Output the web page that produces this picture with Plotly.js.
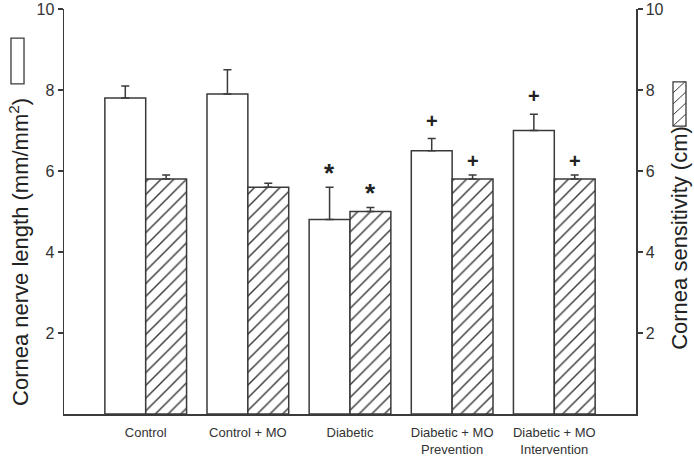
<!DOCTYPE html>
<html>
<head>
<meta charset="utf-8">
<script src="https://cdn.plot.ly/plotly-3.0.1.min.js"></script>
<style>
  html, body { margin: 0; padding: 0; background: #fff; }
  #chart { width: 694px; height: 458px; }
</style>
</head>
<body>
<div id="chart"></div>
<script>
// groups along the x axis
var groups = ["Control", "Control + MO", "Diabetic", "Diabetic + MO<br>Prevention", "Diabetic + MO<br>Intervention"];

// nerve length (left axis, white bars)
var nerveLength = [7.8, 7.9, 4.8, 6.5, 7.0];
var nerveErr = [0.3, 0.6, 0.8, 0.3, 0.4];
var nerveMarks = ["", "", "*", "+", "+"];

// sensitivity (right axis, hatched bars)
var sensitivity = [5.8, 5.6, 5.0, 5.8, 5.8];
var sensErr = [0.1, 0.1, 0.1, 0.1, 0.1];
var sensMarks = ["", "", "*", "+", "+"];

var yTicks = [2, 4, 6, 8, 10];

var ink = "#3a3a3a";
var fontName = "Liberation Sans, Arial";
var xs = groups.map(function (g, i) { return i; });

var whiteBars = {
  x: xs, y: nerveLength, type: "bar",
  offset: -0.4, width: 0.4,
  marker: {color: "#ffffff", line: {color: ink, width: 1.5}},
  error_y: {type: "data", array: nerveErr, symmetric: false,
            arrayminus: nerveErr.map(function () { return 0; }),
            color: ink, thickness: 1.5, width: 4},
  showlegend: false, hoverinfo: "skip"
};

var hatchBars = {
  x: xs, y: sensitivity, type: "bar", yaxis: "y2",
  offset: 0, width: 0.4,
  marker: {color: "#ffffff", line: {color: ink, width: 1.5},
           pattern: {shape: "/", fgcolor: ink, bgcolor: "#ffffff", size: 9, solidity: 0.16}},
  error_y: {type: "data", array: sensErr, symmetric: false,
            arrayminus: sensErr.map(function () { return 0; }),
            color: ink, thickness: 1.5, width: 4},
  showlegend: false, hoverinfo: "skip"
};

function markNote(m, x, y, yref, plusShift) {
  return {x: x, y: y, xref: "x", yref: yref,
    text: m === "*" ? "<b>*</b>" : "<b>+</b>", showarrow: false,
    xanchor: "center", yanchor: "middle", yshift: m === "*" ? 14 : plusShift,
    font: {family: fontName, size: m === "*" ? 26 : 20, color: "#222222"}};
}

var annotations = [];
nerveMarks.forEach(function (m, i) {
  if (m) annotations.push(markNote(m, i - 0.2, nerveLength[i] + nerveErr[i], "y", 18));
});
sensMarks.forEach(function (m, i) {
  if (m) annotations.push(markNote(m, i + 0.2, sensitivity[i] + sensErr[i], "y2", 14));
});

// axis titles placed beside the little key boxes
annotations.push({x: -0.0787, y: 0.40, xref: "paper", yref: "paper", textangle: -90,
  xanchor: "center", yanchor: "middle",
  text: "Cornea nerve length (mm/mm<sup>2</sup>)", showarrow: false,
  font: {family: fontName, size: 22, color: "#222222"}});
annotations.push({x: 1.077, y: 0.435, xref: "paper", yref: "paper", textangle: -90,
  xanchor: "center", yanchor: "middle",
  text: "Cornea sensitivity (cm)", showarrow: false,
  font: {family: fontName, size: 22, color: "#222222"}});

// key boxes
var shapes = [
  {type: "rect", xref: "paper", yref: "paper", x0: -0.0927, x1: -0.0699, y0: 0.815, y1: 0.928,
   line: {color: ink, width: 1.3}, fillcolor: "#ffffff"},
  {type: "rect", xref: "paper", yref: "paper", x0: 1.0647, x1: 1.0874, y0: 0.711, y1: 0.820,
   line: {color: ink, width: 1.3}, fillcolor: "#ffffff"}
];
var hx0 = 1.0647, hx1 = 1.0874, hy0 = 0.711, hy1 = 0.820;
var step = (hy1 - hy0) / 4;
var d = "";
for (var k = -1; k < 4; k++) {
  var ya = hy0 + k * step, yb = ya + step * 1.1;
  var xa = hx0, xb = hx1;
  if (ya < hy0) { xa = hx0 + (hx1 - hx0) * (hy0 - ya) / (yb - ya); ya = hy0; }
  if (yb > hy1) { xb = hx0 + (hx1 - hx0) * (hy1 - (hy0 + k * step)) / (step * 1.1); yb = hy1; }
  d += "M" + xa + "," + ya + "L" + xb + "," + yb + " ";
}
shapes.push({type: "path", xref: "paper", yref: "paper", path: d, line: {color: ink, width: 1}});

var layout = {
  width: 694, height: 458,
  margin: {l: 64, r: 58, t: 9, b: 44},
  paper_bgcolor: "#ffffff", plot_bgcolor: "#ffffff",
  font: {family: fontName, color: "#333"},
  barmode: "overlay",
  xaxis: {
    range: [-0.8, 4.8], tickvals: xs, ticktext: groups,
    showline: true, linecolor: ink, linewidth: 1.5, ticks: "",
    showgrid: false, zeroline: false, fixedrange: true,
    tickfont: {size: 13, color: "#333"}, ticklabelstandoff: 6
  },
  yaxis: {
    range: [0, 10], tickvals: yTicks,
    showline: true, linecolor: ink, linewidth: 1.5,
    ticks: "outside", ticklen: 5, tickcolor: ink, tickwidth: 1.2,
    showgrid: false, zeroline: false,
    tickfont: {size: 16, color: "#333"}
  },
  yaxis2: {
    range: [0, 10], tickvals: yTicks, overlaying: "y", side: "right",
    showline: true, linecolor: ink, linewidth: 1.5,
    ticks: "outside", ticklen: 5, tickcolor: ink, tickwidth: 1.2,
    showgrid: false, zeroline: false,
    tickfont: {size: 16, color: "#333"}
  },
  annotations: annotations,
  shapes: shapes
};

Plotly.newPlot("chart", [whiteBars, hatchBars], layout, {displayModeBar: false, staticPlot: true});
</script>
</body>
</html>
